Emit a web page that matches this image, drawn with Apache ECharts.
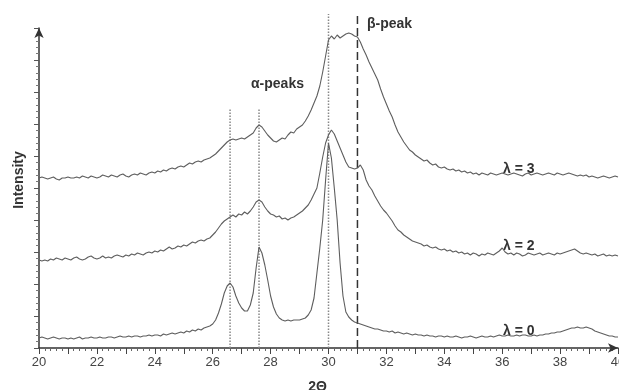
<!DOCTYPE html>
<html>
<head>
<meta charset="utf-8">
<script src="https://cdn.jsdelivr.net/npm/echarts@6/dist/echarts.min.js"></script>
<style>
  html, body { margin: 0; padding: 0; background: #fff; }
  #chart { width: 619px; height: 390px; }
</style>
</head>
<body>
<div id="chart"></div>
<script>
// 2Θ grid: 20 .. 40 step 0.1
var thetaStart = 20
var thetaStep = 0.1

// intensity, arbitrary units
var lambda0 = [
  10,11,10,9,10,11,10,9,10,10, 9,10,9,10,11,9,10,10,11,10,
  10,11,10,10,11,11,10,11,12,11, 11,12,11,12,12,11,12,12,13,12,
  13,13,12,14,13,14,15,14,15,16, 15,17,16,18,17,19,18,20,21,22,
  24,28,35,44,55,62,65,61,52,45, 40,37,37,43,55,80,101,95,83,68,
  52,41,34,30,28,27,28,27,28,28, 28,29,30,33,38,50,75,100,128,168,
  205,190,160,128,85,52,36,31,28,26, 25,24,23,22,21,20,19,19,18,17,
  17,16,17,15,16,15,14,15,14,13, 14,13,13,12,13,12,12,11,12,12,
  11,12,11,11,12,11,10,11,11,12, 11,10,11,12,11,11,12,11,12,13,
  12,12,13,12,12,13,12,13,13,12, 12,13,12,13,13,14,14,15,15,16,
  16,17,18,19,20,20,21,20,20,21, 20,19,17,16,15,14,13,12,12,11,
  11
]
var lambda2 = [
  88,87,88,87,89,88,90,89,88,90, 89,88,90,91,89,88,89,91,92,90,
  89,90,92,90,91,90,92,93,92,91, 93,92,94,93,95,94,93,95,96,95,
  97,96,98,97,99,101,99,100,102,101, 103,102,104,106,105,107,108,107,109,110,
  113,116,120,124,127,129,131,133,131,134, 133,136,134,137,141,146,148,146,141,137,
  134,133,131,132,129,130,128,130,131,133, 135,137,140,143,148,154,160,175,191,205,
  213,218,214,207,200,193,186,181,180,179, 180,183,178,168,162,158,152,147,142,138,
  135,131,127,122,118,116,113,111,109,107, 106,105,104,102,103,101,100,101,99,98,
  99,97,98,96,97,95,96,94,95,93, 95,94,92,94,93,95,94,93,95,97,
  100,96,94,95,93,95,94,92,93,95, 94,93,94,95,93,94,95,94,93,95,
  94,95,96,97,98,99,97,95,94,95, 94,93,94,92,93,94,92,93,92,93,
  92
]
var lambda3 = [
  170,171,170,169,170,171,169,168,170,170, 171,170,170,171,170,172,171,170,172,171,
  170,171,173,172,171,173,172,171,173,174, 172,171,173,174,173,175,174,173,175,176,
  175,177,176,178,177,179,180,179,181,182, 181,183,185,184,186,187,186,188,189,190,
  192,194,197,200,203,206,208,209,208,209, 210,209,211,213,215,220,223,221,217,213,
  210,207,206,208,210,209,213,216,215,219, 221,223,227,232,238,245,252,262,276,292,
  308,312,309,313,310,312,314,315,314,312, 311,306,299,293,286,280,274,268,259,251,
  244,237,231,223,216,211,206,202,198,196, 193,191,189,187,188,185,183,184,181,180,
  181,179,178,179,177,178,176,177,175,176, 174,175,173,175,174,173,175,174,173,174,
  175,174,173,174,175,174,173,172,174,175, 173,174,175,174,173,174,175,174,173,175,
  174,173,174,175,174,173,172,173,172,173, 171,172,171,170,171,172,171,170,171,172,
  171
]

// marker lines: position and top height
var alphaPeaks = [26.6, 27.6, 30.0]
var alphaTops = [240, 240, 334]
var betaPeak = 31.0
var betaTop = 336

function toPairs(values) {
  return values.map(function (v, i) {
    return [+(thetaStart + i * thetaStep).toFixed(1), v]
  })
}

var lineColor = '#5e5e5e'
var series = [lambda0, lambda2, lambda3].map(function (vals) {
  return {
    type: 'line',
    data: toPairs(vals),
    symbol: 'none',
    smooth: false,
    lineStyle: { color: lineColor, width: 1.1 },
    z: 3
  }
})

alphaPeaks.forEach(function (p, i) {
  series.push({
    type: 'line',
    data: [[p, 0], [p, alphaTops[i]]],
    symbol: 'none',
    clip: false,
    silent: true,
    lineStyle: { color: '#888', width: 1.5, type: [1.5, 1.5] },
    z: 2
  })
})
series.push({
  type: 'line',
  data: [[betaPeak, 0], [betaPeak, betaTop]],
  symbol: 'none',
  clip: false,
  silent: true,
  lineStyle: { color: '#333', width: 1.5, type: [8, 4] },
  z: 2
})

var chart = echarts.init(document.getElementById('chart'))
var font = 'Liberation Sans, Arial, sans-serif'
var txt = { fontFamily: font, fontWeight: 'bold', fontSize: 14, fill: '#333' }

chart.setOption({
  animation: false,
  backgroundColor: '#fff',
  grid: { left: 39, right: 1, top: 28, bottom: 42, containLabel: false, outerBoundsMode: 'none' },
  xAxis: {
    type: 'value',
    min: 20,
    max: 40,
    interval: 1,
    name: '2Θ',
    nameLocation: 'middle',
    nameGap: 32,
    nameTextStyle: { fontFamily: font, fontWeight: 'bold', fontSize: 14, color: '#333', padding: [0, 22, 0, 0] },
    axisLine: { lineStyle: { color: '#333', width: 1.5 }, symbol: ['none', 'arrow'], symbolSize: [7, 10] },
    axisTick: { length: 6, lineStyle: { color: '#444' } },
    minorTick: { show: true, splitNumber: 5, length: 3, lineStyle: { color: '#666' } },
    axisLabel: {
      color: '#444',
      fontSize: 13,
      margin: 8,
      fontFamily: font,
      formatter: function (v) { return v % 2 === 0 ? v : '' }
    },
    splitLine: { show: false }
  },
  yAxis: {
    type: 'value',
    min: 0,
    max: 320,
    interval: 32,
    name: 'Intensity',
    nameLocation: 'middle',
    nameGap: 13,
    nameTextStyle: { fontFamily: font, fontWeight: 'bold', fontSize: 14, color: '#333', padding: [0, 0, 0, 16] },
    axisLine: { show: true, lineStyle: { color: '#333', width: 1.5 }, symbol: ['none', 'arrow'], symbolSize: [7, 10] },
    axisTick: { show: true, length: 5, lineStyle: { color: '#555' } },
    minorTick: { show: true, splitNumber: 5, length: 3, lineStyle: { color: '#777' } },
    axisLabel: { show: false },
    splitLine: { show: false }
  },
  graphic: [
    { type: 'text', left: 251, top: 77, style: Object.assign({ text: 'α-peaks' }, txt) },
    { type: 'text', left: 367, top: 17, style: Object.assign({ text: 'β-peak' }, txt) },
    { type: 'text', left: 503, top: 162, style: Object.assign({ text: 'λ = 3' }, txt) },
    { type: 'text', left: 503, top: 239, style: Object.assign({ text: 'λ = 2' }, txt) },
    { type: 'text', left: 503, top: 324, style: Object.assign({ text: 'λ = 0' }, txt) }
  ],
  series: series
})
</script>
</body>
</html>
